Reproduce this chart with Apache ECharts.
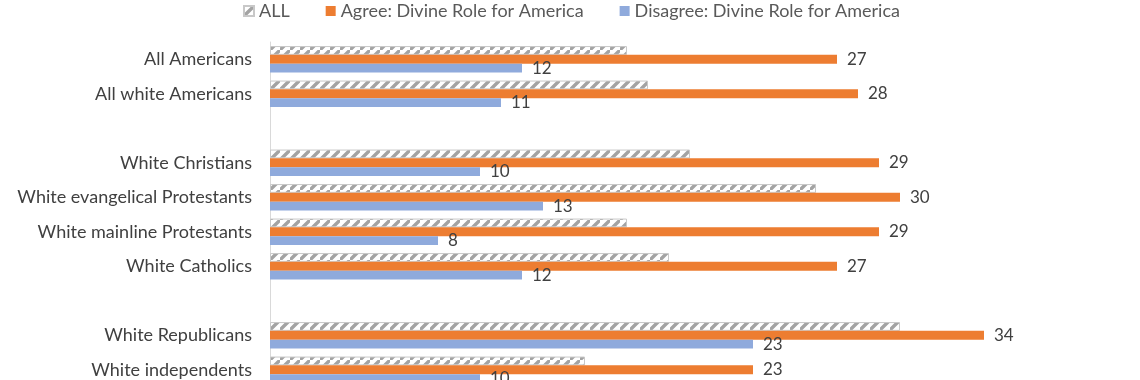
<!DOCTYPE html>
<html>
<head>
<meta charset="utf-8">
<script src="https://cdn.jsdelivr.net/npm/echarts@6/dist/echarts.min.js"></script>
<style>
html,body{margin:0;padding:0;background:#fff;overflow:hidden;}
#chart{width:1140px;height:420px;}
</style>
</head>
<body>
<div id="chart"></div>
<script>
var categories = ['All Americans', 'All white Americans', ' ', 'White Christians', 'White evangelical Protestants', 'White mainline Protestants', 'White Catholics', '  ', 'White Republicans', 'White independents'];
var allValues = [17, 18, null, 20, 26, 17, 19, null, 30, 15];
var agreeValues = [27, 28, null, 29, 30, 29, 27, null, 34, 23];
var disagreeValues = [12, 11, null, 10, 13, 8, 12, null, 23, 10];
var seriesNames = ['ALL', 'Agree: Divine Role for America', 'Disagree: Divine Role for America'];

var P = 10;
var pc = document.createElement('canvas');
pc.width = P; pc.height = P;
var ctx = pc.getContext('2d');
ctx.fillStyle = '#ffffff';
ctx.fillRect(0, 0, P, P);
ctx.strokeStyle = '#a3a3a3';
ctx.lineWidth = 3.4;
ctx.beginPath();
ctx.moveTo(-2, P + 2); ctx.lineTo(P + 2, -2);
ctx.moveTo(-P - 2, 2); ctx.lineTo(2, -P - 2);
ctx.moveTo(P - 2, 2 * P + 2); ctx.lineTo(2 * P + 2, P - 2);
ctx.stroke();

var font = 'Lato, "Liberation Sans", sans-serif';
var chart = echarts.init(document.getElementById('chart'), null, {renderer: 'canvas'});
var labelCommon = {show: true, position: 'right', distance: 10, color: '#404040', fontSize: 17, fontFamily: font};
chart.setOption({
  animation: false,
  backgroundColor: '#ffffff',
  legend: {
    left: 238, top: -3,
    itemWidth: 10, itemHeight: 10, itemGap: 36,
    icon: 'rect',
    textStyle: {color: '#595959', fontSize: 18, fontFamily: font},
    data: seriesNames
  },
  grid: {left: 270, top: 42, width: 840, height: 345},
  xAxis: {
    type: 'value', min: 0, max: 40,
    axisLine: {show: false}, axisTick: {show: false},
    axisLabel: {show: false}, splitLine: {show: false}
  },
  yAxis: {
    type: 'category', inverse: true, data: categories,
    axisLine: {show: true, lineStyle: {color: '#d9d9d9', width: 1}},
    axisTick: {show: false},
    axisLabel: {color: '#404040', fontSize: 18, fontFamily: font, margin: 18}
  },
  series: [
    {name: seriesNames[0], type: 'bar', data: allValues, barWidth: 8.8, barGap: '0%',
     itemStyle: {color: {image: pc, repeat: 'repeat'}, borderColor: '#c8c8c8', borderWidth: 1}},
    {name: seriesNames[1], type: 'bar', data: agreeValues, barWidth: 8.8, barGap: '0%',
     itemStyle: {color: '#ED7D31'}, label: labelCommon},
    {name: seriesNames[2], type: 'bar', data: disagreeValues, barWidth: 8.8, barGap: '0%',
     itemStyle: {color: '#8FAADC'}, label: labelCommon}
  ]
});
</script>
</body>
</html>
